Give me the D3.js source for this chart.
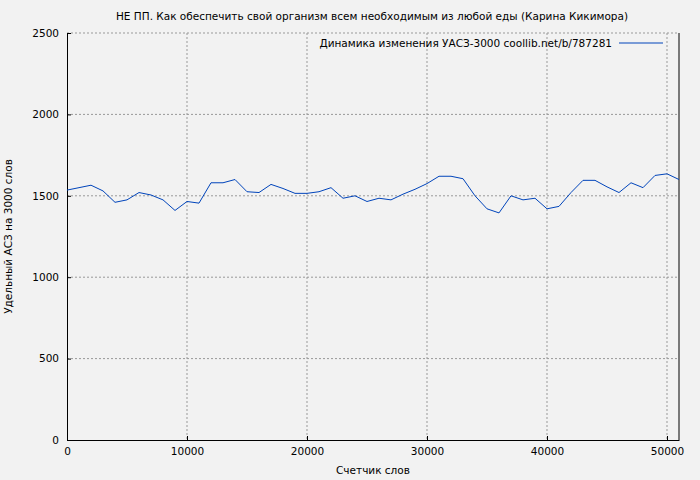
<!DOCTYPE html>
<html><head><meta charset="utf-8">
<script src="https://cdn.jsdelivr.net/npm/d3@7"></script>
<style>body{margin:0;background:#f2f2f2}text{font-family:"DejaVu Sans",sans-serif;font-size:10.5px;fill:#000}</style>
</head><body><div id="chart"></div>
<script>
var svgWidth = 700, svgHeight = 480;
var margin = {top: 33, right: 21, bottom: 40, left: 67};
var chartWidth = svgWidth - margin.left - margin.right;
var chartHeight = svgHeight - margin.top - margin.bottom;

// word counter (step 1000) and values
var words = d3.range(0, 51001, 1000);
var values = [1535,1550,1565,1530,1460,1475,1520,1505,1475,1410,1465,1455,1580,1580,1600,1525,1520,1570,1545,1515,
  1515,1525,1550,1485,1500,1465,1485,1475,1510,1540,1575,1620,1620,1605,1500,1420,1395,1500,1475,1485,
  1420,1435,1520,1595,1595,1555,1520,1580,1550,1625,1635,1600];
var xTicks = [0,10000,20000,30000,40000,50000];
var yTicks = [0,500,1000,1500,2000,2500];

var svg = d3.select("#chart").append("svg").attr("width", svgWidth).attr("height", svgHeight);
svg.append("rect").attr("width", svgWidth).attr("height", svgHeight).attr("fill", "#f2f2f2");
var g = svg.append("g").attr("transform", `translate(${margin.left},${margin.top})`);

var x = d3.scaleLinear().domain([0, 51000]).range([0, chartWidth]);
var y = d3.scaleLinear().domain([0, 2500]).range([chartHeight, 0]);

// grid
g.selectAll(".gx").data(xTicks.slice(1)).enter().append("line")
  .attr("x1", d => x(d)).attr("x2", d => x(d)).attr("y1", 0).attr("y2", chartHeight)
  .attr("stroke", "#999").attr("stroke-dasharray", "2,2");
g.selectAll(".gy").data(yTicks.slice(1)).enter().append("line")
  .attr("y1", d => y(d)).attr("y2", d => y(d)).attr("x1", 0).attr("x2", chartWidth)
  .attr("stroke", "#999").attr("stroke-dasharray", "2,2");

// axes
var xAxis = g.append("g").attr("transform", `translate(0,${chartHeight})`)
  .call(d3.axisBottom(x).tickValues(xTicks).tickFormat(d3.format("d")).tickSizeInner(-4).tickSizeOuter(0).tickPadding(8));
var yAxis = g.append("g")
  .call(d3.axisLeft(y).tickValues(yTicks).tickFormat(d3.format("d")).tickSizeInner(-4).tickSizeOuter(0).tickPadding(8));
[xAxis, yAxis].forEach(a => { a.selectAll("text").style("font-size", "10.5px").style("font-family", "DejaVu Sans"); a.select(".domain").attr("stroke", "#000"); });
g.append("line").attr("x1", chartWidth).attr("x2", chartWidth).attr("y1", 0).attr("y2", chartHeight).attr("stroke", "#000");

// line
var line = d3.line().x((d, i) => x(words[i])).y(d => y(d));
g.append("path").attr("d", line(values)).attr("fill", "none").attr("stroke", "#0044bb").attr("stroke-width", 1);

// legend
g.append("text").attr("x", chartWidth - 67).attr("y", 14).attr("text-anchor", "end")
  .text("Динамика изменения УАСЗ-3000 coollib.net/b/787281");
g.append("line").attr("x1", chartWidth - 60).attr("x2", chartWidth - 16).attr("y1", 10).attr("y2", 10).attr("stroke", "#0044bb");

// titles
svg.append("text").attr("x", 372).attr("y", 20).attr("text-anchor", "middle")
  .text("НЕ ПП. Как обеспечить свой организм всем необходимым из любой еды (Карина Кикимора)");
svg.append("text").attr("x", margin.left + chartWidth / 2).attr("y", 474).attr("text-anchor", "middle").text("Счетчик слов");
svg.append("text").attr("transform", "rotate(-90)").attr("x", -(margin.top + chartHeight / 2)).attr("y", 12)
  .attr("text-anchor", "middle").text("Удельный АСЗ на 3000 слов");
</script></body></html>
